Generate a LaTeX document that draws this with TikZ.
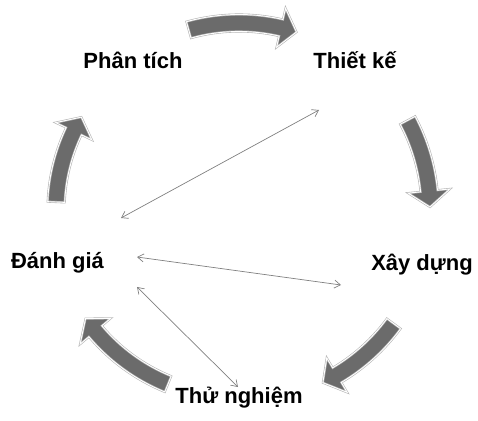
\documentclass[tikz,border=0pt]{standalone}
\usepackage{fontspec}
\setmainfont{Liberation Sans}
\usetikzlibrary{arrows.meta}
\definecolor{arrfill}{HTML}{6B6B6B}
\definecolor{arredge}{HTML}{B4B4B4}
\definecolor{linegray}{HTML}{808080}
\tikzset{
  blockarrow/.style={fill=arrfill, draw=arredge, line width=0.6pt, double=white, double distance=0.9pt, line join=miter},
  label/.style={font=\bfseries\fontsize{22}{26}\selectfont, anchor=base, inner sep=0pt},
  link/.style={draw=linegray, line width=0.7pt, {Straight Barb[length=6pt,width=8pt]}-{Straight Barb[length=6pt,width=8pt]}}
}
% tail angle, tip angle, radius, half body width, half head width
\newcommand{\cycarrow}[5]{%
  \pgfmathsetmacro\rOut{#3+#4}%
  \pgfmathsetmacro\rIn{#3-#4}%
  \pgfmathsetmacro\rHo{#3+#5}%
  \pgfmathsetmacro\rHi{#3-#5}%
  \pgfmathsetmacro\aB{#2+16/#3*180/pi}%
  \path[blockarrow] (#1:\rOut pt) arc[start angle=#1, end angle=\aB, radius=\rOut pt]
    -- (\aB:\rHo pt) -- (#2:#3pt) -- (\aB:\rHi pt) -- (\aB:\rIn pt)
    arc[start angle=\aB, end angle=#1, radius=\rIn pt] -- cycle;
}
\begin{document}
\begin{tikzpicture}[x=1pt,y=1pt]
\useasboundingbox (0,0) rectangle (478,420);
\begin{scope}[shift={(239,210)}]
  \cycarrow{105.6}{72.1}{187}{8.5}{20}
  \cycarrow{28}{0.9}{191}{8.5}{21}
  \cycarrow{-36.3}{-64.1}{192}{8.5}{20}
  \cycarrow{-112.2}{-144.7}{188}{8.5}{20}
  \cycarrow{177.5}{149.5}{183}{8.5}{20}
\end{scope}
\node[label] (pt) at (133,351) {Phân tích};
\node[label] (tk) at (355,351) {Thiết kế};
\node[label] (xd) at (422,149.5) {Xây dựng};
\node[label] (dg) at (57.5,151) {Đánh giá};
\node[label] (tn) at (239,17) {Thử nghiệm};
\coordinate (tkA) at (319,310);
\coordinate (dgA) at (121,202);
\coordinate (dgB) at (137,163);
\coordinate (xdA) at (341,135);
\coordinate (dgC) at (137,133);
\coordinate (tnA) at (238,33);
\draw[link] (tkA) -- (dgA);
\draw[link] (dgB) -- (xdA);
\draw[link] (dgC) -- (tnA);
\end{tikzpicture}
\end{document}
